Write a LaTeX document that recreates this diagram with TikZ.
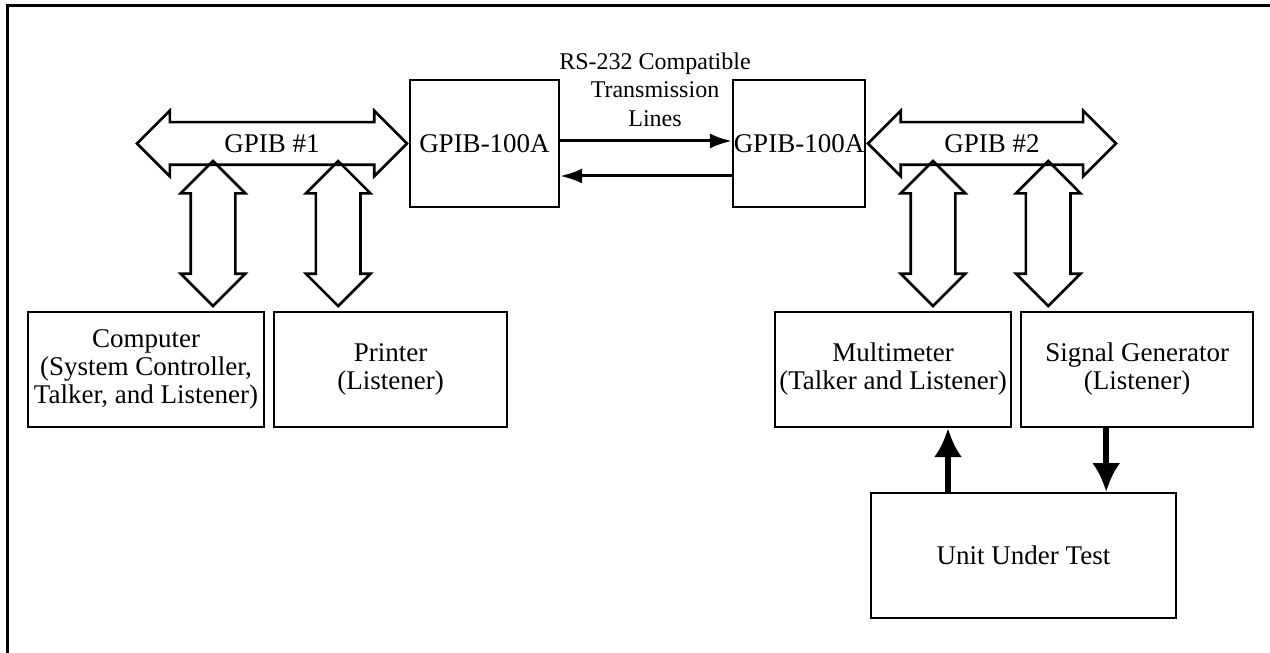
\documentclass[tikz,border=0pt]{standalone}
\usepackage{fontspec}
\setmainfont{Liberation Serif}
\usetikzlibrary{positioning,shapes.arrows,arrows.meta}

\tikzstyle{box} = [rectangle, draw=black, line width=2.2pt, align=center, text centered, inner sep=0pt, font=\fontsize{27}{28}\selectfont]
\tikzstyle{bus} = [double arrow, draw=black, line width=2.6pt, double arrow tip angle=90, double arrow head extend=11.5pt, inner sep=0pt, text height=29.5pt, text depth=10.5pt, font=\fontsize{27}{28}\selectfont]
\tikzstyle{link} = [double arrow, draw=black, line width=2.6pt, double arrow tip angle=90, double arrow head extend=10pt, inner sep=0pt, text height=21pt, text depth=21pt, minimum height=145pt, rotate=90, anchor=west]
\tikzstyle{serial} = [line width=3pt, -{Latex[length=22pt,width=15pt]}]
\tikzstyle{signal} = [line width=5.5pt, -{Latex[length=29pt,width=28pt]}]
\tikzstyle{rslabel} = [align=center, inner sep=0pt, font=\fontsize{24}{28.5}\selectfont]

\begin{document}
\begin{tikzpicture}[x=1pt, y=1pt, node distance = 8pt]
	\useasboundingbox (0,0) rectangle (1270,653);
	% Frame
	\draw [line width=3.5pt] (7.5,0) -- (7.5,647.5) -- (1270,647.5);
	% Place nodes
	\node [box, minimum width=149pt, minimum height=127pt] (gpibA) at (484.5,509.5) {GPIB-100A};
	\node [box, minimum width=132pt, minimum height=127pt] (gpibB) at (799,509.5) {GPIB-100A};
	\node [bus, minimum height=270pt, left=0pt of gpibA] (busA) {GPIB \#1};
	\node [bus, minimum height=248pt, right=0pt of gpibB] (busB) {GPIB \#2};
	\node [box, minimum width=236pt, minimum height=115pt] (computer) at (146,283.5) {Computer\\(System Controller,\\Talker, and Listener)};
	\node [box, minimum width=233pt, minimum height=115pt, right=of computer] (printer) {Printer\\(Listener)};
	\node [box, minimum width=236pt, minimum height=115pt] (multimeter) at (893,283.5) {Multimeter\\(Talker and Listener)};
	\node [box, minimum width=232pt, minimum height=115pt, right=of multimeter] (siggen) {Signal Generator\\(Listener)};
	\node [box, minimum width=305pt, minimum height=125pt, below=64pt of multimeter, xshift=130.5pt] (uut) {Unit Under Test};
	\node [link] (linkA) at ([xshift=67pt, yshift=3pt]computer.north) {};
	\node [link] (linkB) at ([xshift=-52.5pt, yshift=3pt]printer.north) {};
	\node [link] (linkC) at ([xshift=40pt, yshift=3pt]multimeter.north) {};
	\node [link] (linkD) at ([xshift=-89pt, yshift=3pt]siggen.north) {};
	% Draw edges
	\draw [serial] ([yshift=2.5pt]gpibA.east) -- node [rslabel, above=13pt, xshift=9pt] (rs) {RS-232 Compatible\\Transmission\\Lines} ([yshift=2.5pt]gpibB.west);
	\draw [serial] ([yshift=-32.5pt]gpibB.west) -- ([yshift=-32.5pt]gpibA.east);
	\draw [signal] ([xshift=-75.5pt]uut.north) -- ([xshift=-75.5pt]uut.north |- multimeter.south);
	\draw [signal] ([xshift=-31pt]siggen.south) -- ([xshift=-31pt]siggen.south |- uut.north);
\end{tikzpicture}
\end{document}
